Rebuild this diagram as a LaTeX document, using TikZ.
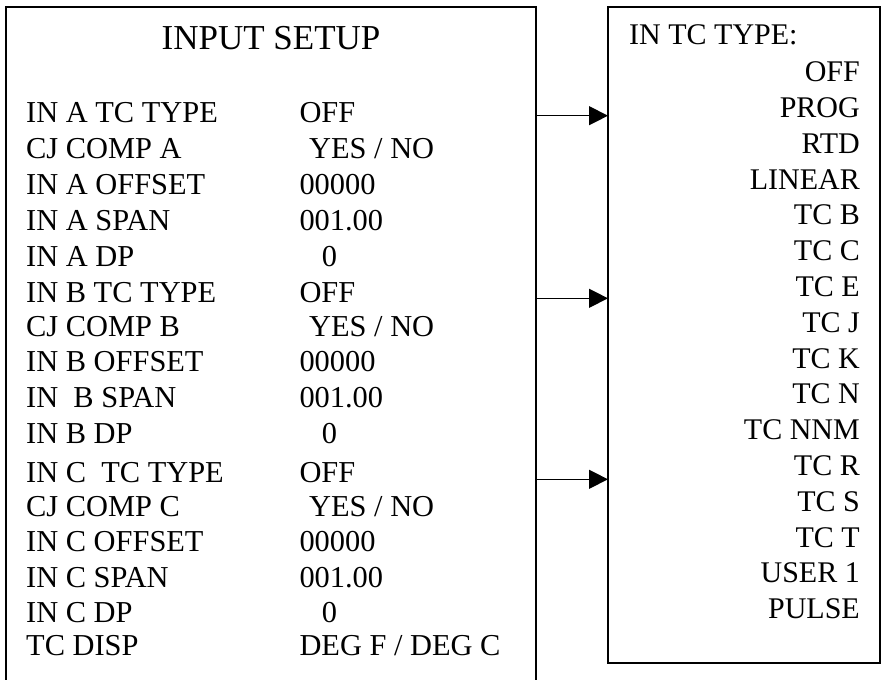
\documentclass[tikz,border=0pt]{standalone}
\usepackage{fontspec}
\setmainfont{Liberation Serif}
\usetikzlibrary{arrows.meta}
\begin{document}
\begin{tikzpicture}[x=1pt,y=-1pt,
  box/.style={draw, line width=1.6pt, inner sep=0pt, outer sep=0pt, anchor=north west},
  ttl/.style={anchor=base, inner sep=0pt, font=\fontsize{35}{40}\selectfont},
  lbl/.style={anchor=base west, inner sep=0pt, font=\fontsize{30.4}{34}\selectfont},
  hdr/.style={anchor=base west, inner sep=0pt, font=\fontsize{30}{34}\selectfont},
  opt/.style={anchor=base east, inner sep=0pt, font=\fontsize{30}{34}\selectfont},
  conn/.style={line width=1.2pt, -{Triangle[length=19pt,width=19pt]}}]
\useasboundingbox (0,0) rectangle (884,680);
% boxes
\node[box, minimum width=530pt, minimum height=674pt] (L) at (6,7) {};
\node[box, minimum width=272pt, minimum height=656pt] (R) at (608,7) {};
% title
\node[ttl] (title) at (271,49.3) {INPUT SETUP};
% left labels
\node[lbl] (l1)  at (26,122.7) {IN A TC TYPE};
\node[lbl] (l2)  at (26,158.3) {CJ COMP A};
\node[lbl] (l3)  at (26,194.0) {IN A OFFSET};
\node[lbl] (l4)  at (26,230.0) {IN A SPAN};
\node[lbl] (l5)  at (26,266.0) {IN A DP};
\node[lbl] (l6)  at (26,302.3) {IN B TC TYPE};
\node[lbl] (l7)  at (26,336.7) {CJ COMP B};
\node[lbl] (l8)  at (26,371.7) {IN B OFFSET};
\node[lbl] (l9)  at (26,407.5) {IN\ \ B SPAN};
\node[lbl] (l10) at (26,443.5) {IN B DP};
\node[lbl] (l11) at (26,482.3) {IN C\ \ TC TYPE};
\node[lbl] (l12) at (26,516.0) {CJ COMP C};
\node[lbl] (l13) at (26,551.7) {IN C OFFSET};
\node[lbl] (l14) at (26,587.7) {IN C SPAN};
\node[lbl] (l15) at (26,622.3) {IN C DP};
\node[lbl] (l16) at (26,655.2) {TC DISP};
% left values
\node[lbl] (v1)  at (299.3,122.7) {OFF};
\node[lbl] (v2)  at (309.0,158.3) {YES / NO};
\node[lbl] (v3)  at (299.3,194.0) {00000};
\node[lbl] (v4)  at (299.3,230.0) {001.00};
\node[lbl] (v5)  at (321.7,266.0) {0};
\node[lbl] (v6)  at (299.3,302.3) {OFF};
\node[lbl] (v7)  at (309.0,336.7) {YES / NO};
\node[lbl] (v8)  at (299.3,371.7) {00000};
\node[lbl] (v9)  at (299.3,407.5) {001.00};
\node[lbl] (v10) at (321.7,443.5) {0};
\node[lbl] (v11) at (299.3,482.3) {OFF};
\node[lbl] (v12) at (309.0,516.0) {YES / NO};
\node[lbl] (v13) at (299.3,551.7) {00000};
\node[lbl] (v14) at (299.3,587.7) {001.00};
\node[lbl] (v15) at (321.7,622.3) {0};
\node[lbl] (v16) at (299.3,655.2) {DEG F / DEG C};
% right list
\node[hdr] (r0)  at (629,45) {IN TC TYPE:};
\node[opt] (r1)  at (860,81.7)  {OFF};
\node[opt] (r2)  at (860,117.5) {PROG};
\node[opt] (r3)  at (860,153.3) {RTD};
\node[opt] (r4)  at (860,189.1) {LINEAR};
\node[opt] (r5)  at (860,224.9) {TC B};
\node[opt] (r6)  at (860,260.7) {TC C};
\node[opt] (r7)  at (860,296.5) {TC E};
\node[opt] (r8)  at (860,332.3) {TC J};
\node[opt] (r9)  at (860,368.1) {TC K};
\node[opt] (r10) at (860,403.9) {TC N};
\node[opt] (r11) at (860,439.7) {TC NNM};
\node[opt] (r12) at (860,475.5) {TC R};
\node[opt] (r13) at (860,511.3) {TC S};
\node[opt] (r14) at (860,547.1) {TC T};
\node[opt] (r15) at (860,582.9) {USER 1};
\node[opt] (r16) at (860,618.7) {PULSE};
% connectors
\coordinate (a1) at (0,115.7);
\coordinate (a2) at (0,298.3);
\coordinate (a3) at (0,479.3);
\draw[conn] (L.east |- a1) -- (R.west |- a1);
\draw[conn] (L.east |- a2) -- (R.west |- a2);
\draw[conn] (L.east |- a3) -- (R.west |- a3);
\end{tikzpicture}
\end{document}
